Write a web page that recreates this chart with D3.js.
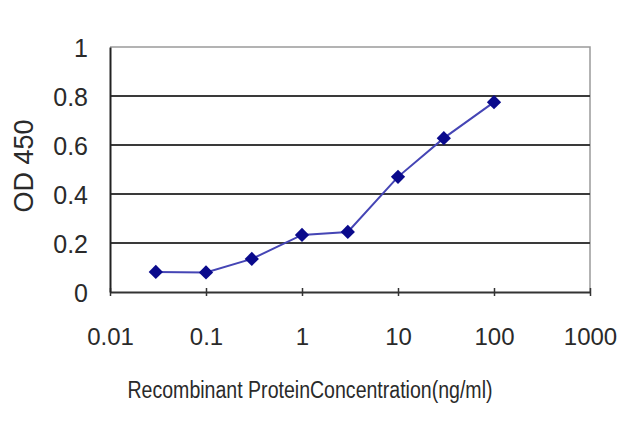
<!DOCTYPE html>
<meta charset="utf-8" />
<script src="https://d3js.org/d3.v7.min.js"></script>
<style>
	body { margin: 0; background: #fff; }
	text { font-family: 'Liberation Sans', Arial, sans-serif; fill: #2a2a2a; }
</style>
<div id="my_dataviz"></div>
<script>
	// data
	var concentrations = [0.03, 0.1, 0.3, 1, 3, 10, 30, 100];
	var od450 = [0.082, 0.08, 0.135, 0.233, 0.245, 0.47, 0.628, 0.775];
	var xTicks = [0.01, 0.1, 1, 10, 100, 1000];
	var xTickLabels = ['0.01', '0.1', '1', '10', '100', '1000'];
	var yTicks = [0, 0.2, 0.4, 0.6, 0.8, 1];
	var yTickLabels = ['0', '0.2', '0.4', '0.6', '0.8', '1'];

	var width = 640, height = 427;
	var plotLeft = 110, plotRight = 590, plotTop = 47, plotBottom = 292;

	var svg = d3
		.select('#my_dataviz')
		.append('svg')
		.attr('width', width)
		.attr('height', height);

	var x = d3.scaleLog().domain([0.01, 1000]).range([plotLeft, plotRight]);
	var y = d3.scaleLinear().domain([0, 1]).range([plotBottom, plotTop]);

	// frame: top and right in light grey
	svg.append('path')
		.attr('d', 'M' + plotLeft + ',' + plotTop + 'H' + plotRight + 'V' + plotBottom)
		.attr('fill', 'none')
		.attr('stroke', '#9a9a9a')
		.attr('stroke-width', 1.5);

	// gridlines
	svg.append('g')
		.selectAll('line')
		.data(yTicks.filter(function (d) { return d > 0 && d < 1; }))
		.enter()
		.append('line')
		.attr('x1', plotLeft)
		.attr('x2', plotRight)
		.attr('y1', function (d) { return y(d); })
		.attr('y2', function (d) { return y(d); })
		.attr('stroke', '#3a3a3a')
		.attr('stroke-width', 2);

	// X axis
	var xAxis = svg.append('g')
		.attr('transform', 'translate(0,' + plotBottom + ')')
		.call(d3.axisBottom(x).tickValues(xTicks).tickSize(0).tickFormat(function (d, i) { return xTickLabels[i]; }));
	xAxis.select('.domain').attr('stroke', '#333').attr('stroke-width', 2);
	xAxis.selectAll('.tick line').attr('y1', -4).attr('y2', 4).attr('stroke', '#333').attr('stroke-width', 1.5);
	xAxis.selectAll('.tick text')
		.attr('dy', 0)
		.attr('y', 53)
		.style('font-size', '24px');

	// Y axis
	var yAxis = svg.append('g')
		.attr('transform', 'translate(' + plotLeft + ',0)')
		.call(d3.axisLeft(y).tickValues(yTicks).tickSize(0).tickFormat(function (d, i) { return yTickLabels[i]; }));
	yAxis.select('.domain').attr('stroke', '#222').attr('stroke-width', 2);
	yAxis.selectAll('.tick text')
		.attr('x', -22)
		.attr('dy', '0.36em')
		.style('font-size', '25px');

	// axis titles
	svg.append('text')
		.attr('x', 310)
		.attr('y', 398)
		.attr('text-anchor', 'middle')
		.attr('textLength', 365)
		.attr('lengthAdjust', 'spacingAndGlyphs')
		.style('font-size', '23px')
		.text('Recombinant ProteinConcentration(ng/ml)');

	svg.append('text')
		.attr('text-anchor', 'middle')
		.attr('transform', 'translate(33,166)rotate(-90)')
		.style('font-size', '27px')
		.text('OD 450');

	var points = concentrations.map(function (c, i) { return [c, od450[i]]; });

	// line
	svg.append('path')
		.datum(points)
		.attr('fill', 'none')
		.attr('stroke', '#4545b5')
		.attr('stroke-width', 2)
		.attr('d', d3.line()
			.x(function (d) { return x(d[0]); })
			.y(function (d) { return y(d[1]); }));

	// diamond markers
	svg.append('g')
		.selectAll('path')
		.data(points)
		.enter()
		.append('path')
		.attr('transform', function (d) { return 'translate(' + x(d[0]) + ',' + y(d[1]) + ')'; })
		.attr('d', d3.symbol().type(d3.symbolDiamond2).size(130))
		.attr('fill', '#0a0a8c');
</script>
